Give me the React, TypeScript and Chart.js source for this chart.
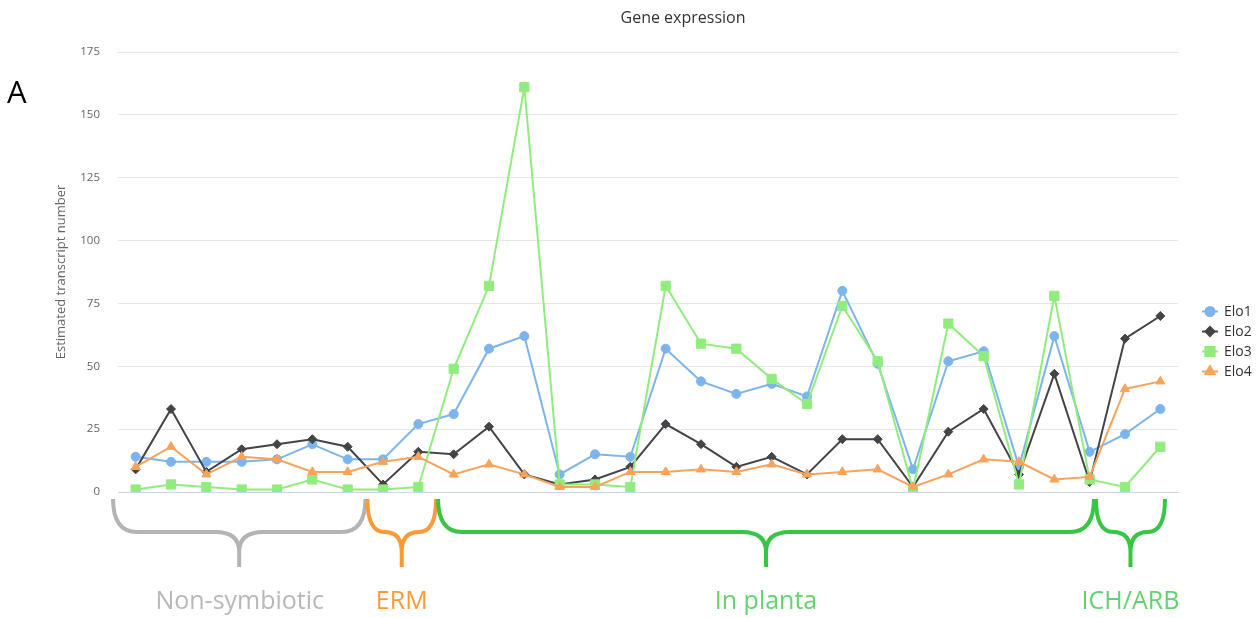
import { useEffect, useRef } from "react";
import { Chart, registerables } from "chart.js";
import { drawPoint } from "chart.js/helpers";

Chart.register(...registerables);

// Samples along the x axis (labels are not shown on the axis)
const samples = [
  "1", "2", "3", "4", "5", "6", "7", "8", "9", "10",
  "11", "12", "13", "14", "15", "16", "17", "18", "19", "20",
  "21", "22", "23", "24", "25", "26", "27", "28", "29", "30",
];

// Estimated transcript numbers per gene
const elo1 = [14, 12, 12, 12, 13, 19, 13, 13, 27, 31, 57, 62, 7, 15, 14, 57, 44, 39, 43, 38, 80, 51, 9, 52, 56, 10, 62, 16, 23, 33];
const elo2 = [9, 33, 8, 17, 19, 21, 18, 3, 16, 15, 26, 7, 3, 5, 10, 27, 19, 10, 14, 7, 21, 21, 2, 24, 33, 7, 47, 4, 61, 70];
const elo3 = [1, 3, 2, 1, 1, 5, 1, 1, 2, 49, 82, 161, 3, 3, 2, 82, 59, 57, 45, 35, 74, 52, 1, 67, 54, 3, 78, 5, 2, 18];
const elo4 = [10, 18, 7, 14, 13, 8, 8, 12, 14, 7, 11, 7, 2, 2, 8, 8, 9, 8, 11, 7, 8, 9, 2, 7, 13, 12, 5, 6, 41, 44];

const seriesNames = ["Elo1", "Elo2", "Elo3", "Elo4"];

// Y axis range
const yMin = 0;
const yMax = 175;
const yStep = 25;

// Sample groups shown as braces under the axis
const groupNames = ["Non-symbiotic", "ERM", "In planta", "ICH/ARB"];

// Brace edges, in category units along the x scale
const braceEdges = [-0.64, 6.53, 8.53, 27.15, 29.16];
const braceColors = ["#b4b4b4", "#fd9a36", "#36c545", "#36c545"];
const groupTextColors = ["#b8b8b8", "#fd9a36", "#62d36e", "#62d36e"];

const seriesStyles = [
  { color: "#7cb5ec", pointStyle: "circle", radius: 4.5 },
  { color: "#434348", pointStyle: "rectRot", radius: 4.5 },
  { color: "#90ed7d", pointStyle: "rect", radius: 6.5 },
  { color: "#f7a35c", pointStyle: "triangle", radius: 5.2 },
];

const FONT = '"Open Sans", "DejaVu Sans", sans-serif';

function drawBrace(ctx: CanvasRenderingContext2D, x0: number, x1: number, color: string) {
  const yTop = 499;
  const yMid = 532;
  const yTip = 567;
  const xc = (x0 + x1) / 2;
  const half = (x1 - x0) / 2;
  const r = Math.min(24, half * 0.5);
  const dy = Math.min(20, yTip - yMid - 6);
  ctx.save();
  ctx.strokeStyle = color;
  ctx.lineWidth = 4;
  ctx.lineCap = "butt";
  ctx.lineJoin = "round";
  ctx.beginPath();
  // left half
  ctx.moveTo(x0, yTop);
  ctx.quadraticCurveTo(x0, yMid, x0 + r, yMid);
  ctx.lineTo(xc - r, yMid);
  ctx.quadraticCurveTo(xc, yMid, xc, yMid + dy);
  ctx.lineTo(xc, yTip);
  // right half
  ctx.moveTo(x1, yTop);
  ctx.quadraticCurveTo(x1, yMid, x1 - r, yMid);
  ctx.lineTo(xc + r, yMid);
  ctx.quadraticCurveTo(xc, yMid, xc, yMid + dy);
  ctx.stroke();
  ctx.restore();
}

const decorations = {
  id: "decorations",
  afterDraw(chart: any) {
    const ctx: CanvasRenderingContext2D = chart.ctx;
    const area = chart.chartArea;
    const xScale = chart.scales.x;
    ctx.save();

    // Title
    ctx.fillStyle = "#333333";
    ctx.font = `16px ${FONT}`;
    ctx.textAlign = "center";
    ctx.textBaseline = "middle";
    ctx.fillText("Gene expression", 683, 18);

    // Panel letter
    ctx.fillStyle = "#000000";
    ctx.font = `31px ${FONT}`;
    ctx.textAlign = "left";
    ctx.textBaseline = "alphabetic";
    ctx.fillText("A", 7, 103);

    // Y axis title
    ctx.save();
    ctx.translate(61, (area.top + area.bottom) / 2);
    ctx.rotate(-Math.PI / 2);
    ctx.fillStyle = "#666666";
    ctx.font = `13px ${FONT}`;
    ctx.textAlign = "center";
    ctx.textBaseline = "middle";
    ctx.fillText("Estimated transcript number", 0, 0);
    ctx.restore();

    // Legend
    const legendX = 1202;
    const legendY = 311.5;
    chart.data.datasets.forEach((ds: any, i: number) => {
      const y = legendY + i * 20;
      ctx.strokeStyle = ds.borderColor;
      ctx.lineWidth = 2;
      ctx.beginPath();
      ctx.moveTo(legendX, y);
      ctx.lineTo(legendX + 16, y);
      ctx.stroke();
      ctx.fillStyle = ds.borderColor;
      drawPoint(ctx, { pointStyle: ds.pointStyle, radius: ds.pointRadius, borderWidth: 1, rotation: 0 }, legendX + 8, y);
      ctx.fillStyle = "#333333";
      ctx.font = `14px ${FONT}`;
      ctx.textAlign = "left";
      ctx.textBaseline = "middle";
      ctx.fillText(ds.label, legendX + 22, y + 0.5);
    });

    // Group braces and their labels
    groupNames.forEach((name, i) => {
      const x0 = xScale.getPixelForValue(braceEdges[i]);
      const x1 = xScale.getPixelForValue(braceEdges[i + 1]);
      const gap = i === 0 ? 0 : 1;
      drawBrace(ctx, x0 + gap, x1 - 1, braceColors[i]);
      ctx.fillStyle = groupTextColors[i];
      ctx.font = `25px ${FONT}`;
      ctx.textAlign = "center";
      ctx.textBaseline = "middle";
      ctx.fillText(name, (x0 + x1) / 2, 602);
    });

    ctx.restore();
  },
};

export default function App() {
  const canvasRef = useRef<HTMLCanvasElement | null>(null);

  useEffect(() => {
    if (!canvasRef.current) return;
    const series = [elo1, elo2, elo3, elo4];
    const chart = new Chart(canvasRef.current, {
      type: "line",
      data: {
        labels: samples,
        datasets: series.map((values, i) => ({
          label: seriesNames[i],
          data: values,
          borderColor: seriesStyles[i].color,
          backgroundColor: seriesStyles[i].color,
          pointBackgroundColor: seriesStyles[i].color,
          pointBorderColor: seriesStyles[i].color,
          pointBorderWidth: 1,
          pointStyle: seriesStyles[i].pointStyle as any,
          pointRadius: seriesStyles[i].radius,
          borderWidth: 2,
          tension: 0,
          fill: false,
          order: series.length - 1 - i,
        })),
      },
      options: {
        responsive: false,
        animation: false,
        layout: { padding: { left: 0, right: 82, top: 52, bottom: 126 } },
        plugins: {
          legend: { display: false },
          title: { display: false },
          tooltip: { enabled: false },
        },
        scales: {
          x: {
            type: "category",
            offset: true,
            grid: { display: false },
            ticks: { display: false },
            border: { display: true, color: "#ccd6eb", width: 1 },
            afterFit: (s: any) => {
              s.height = 0;
            },
          },
          y: {
            min: yMin,
            max: yMax,
            ticks: {
              stepSize: yStep,
              padding: 18,
              color: "#666666",
              font: { family: FONT, size: 11.5 },
            },
            grid: { color: "#e6e6e6", drawTicks: false, lineWidth: 1 },
            border: { display: false },
            afterFit: (s: any) => {
              s.width = 118;
            },
          },
        },
      },
      plugins: [decorations],
    });
    return () => chart.destroy();
  }, []);

  return (
    <div style={{ position: "fixed", left: 0, top: 0, width: 1260, height: 618, background: "#ffffff" }}>
      <canvas ref={canvasRef} width={1260} height={618} style={{ display: "block" }} />
    </div>
  );
}
